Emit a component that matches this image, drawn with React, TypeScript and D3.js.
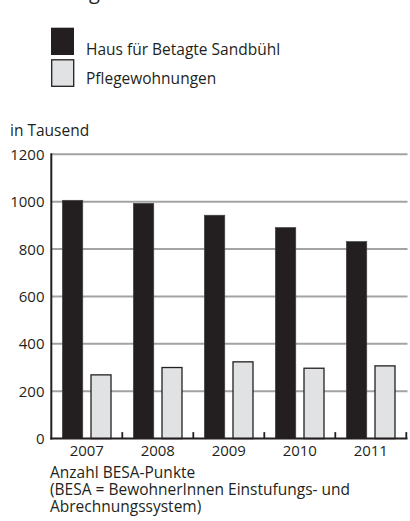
import React from "react";
import * as d3 from "d3";

const years = ["2007", "2008", "2009", "2010", "2011"];
const seriesNames = ["Haus für Betagte Sandbühl", "Pflegewohnungen"];
const sandbuehl = [1006, 993, 943, 891, 832];
const pflegewohnungen = [269, 300, 324, 297, 307];
const yTicks = [0, 200, 400, 600, 800, 1000, 1200];
const footnote = [
  "Anzahl BESA-Punkte",
  "(BESA = BewohnerInnen Einstufungs- und",
  "Abrechnungssystem)",
];

const W = 410;
const H = 521;
const FONT = "'Open Sans', sans-serif";
const DARK = "#231f20";
const LIGHT = "#e1e2e4";
const GRID = "#a3a3a3";
const FS = 15.5;
const FSN = 15;

export default function App() {
  const left = 51.3;
  const right = 406.3;
  const top = 154.3;
  const bottom = 438.6;

  const x = d3.scaleBand<string>().domain(years).range([left, right]).padding(0);
  const y = d3.scaleLinear().domain([0, 1200]).range([bottom, top]);
  const bw = x.bandwidth();
  const barW = 20.5;
  const pad = 11;
  const gap = 8.2;

  return (
    <div style={{ position: "absolute", left: 0, top: 0 }}>
      <svg width={W} height={H} style={{ display: "block", fontFamily: FONT }}>
        <rect width={W} height={H} fill="#fff" />
        {/* cut-off title */}
        <text x={89} y={-1.5} fontSize={20} fill={DARK}>g</text>

        {/* legend */}
        <rect x={51} y={27.7} width={23} height={27.3} fill={DARK} />
        <text x={86} y={55} fontSize={FS} fill={DARK}>{seriesNames[0]}</text>
        <rect x={51.7} y={59.8} width={22} height={26.5} fill={LIGHT} stroke={DARK} strokeWidth={1.3} />
        <text x={86} y={83.5} fontSize={FS} fill={DARK}>{seriesNames[1]}</text>

        <text x={10} y={135.7} fontSize={FS} fill={DARK}>in Tausend</text>

        {/* gridlines */}
        {yTicks.filter((t) => t > 0).map((t) => (
          <line key={t} x1={left} x2={407.5} y1={y(t)} y2={y(t)} stroke={GRID} strokeWidth={2} />
        ))}
        {/* y tick labels */}
        {yTicks.map((t) => (
          <text key={t} x={44.5} y={y(t) + 5.5} fontSize={FSN} textAnchor="end" fill={DARK}>
            {t}
          </text>
        ))}

        {/* bars */}
        {years.map((yr, i) => {
          const x0 = x(yr)!;
          return (
            <g key={yr}>
              <rect x={x0 + pad} y={y(sandbuehl[i])} width={barW} height={bottom - y(sandbuehl[i])} fill={DARK} stroke="#444" strokeWidth={0.6} />
              <rect x={x0 + pad + barW + gap} y={y(pflegewohnungen[i])} width={barW - 0.5} height={bottom - y(pflegewohnungen[i])} fill={LIGHT} stroke={DARK} strokeWidth={1.3} />
              <text x={x0 + bw / 2} y={456} fontSize={FSN} textAnchor="middle" fill={DARK}>{yr}</text>
              <line x1={x0 + bw} x2={x0 + bw} y1={bottom} y2={bottom - 6.5} stroke={DARK} strokeWidth={1.8} />
            </g>
          );
        })}

        {/* axes */}
        <line x1={left} x2={left} y1={top - 1} y2={bottom + 1} stroke={DARK} strokeWidth={2} />
        <line x1={left - 1} x2={407.5} y1={bottom} y2={bottom} stroke={DARK} strokeWidth={2} />

        {footnote.map((s, i) => (
          <text key={i} x={50} y={478.3 + i * 17} fontSize={FS} fill={DARK}>{s}</text>
        ))}
      </svg>
    </div>
  );
}
